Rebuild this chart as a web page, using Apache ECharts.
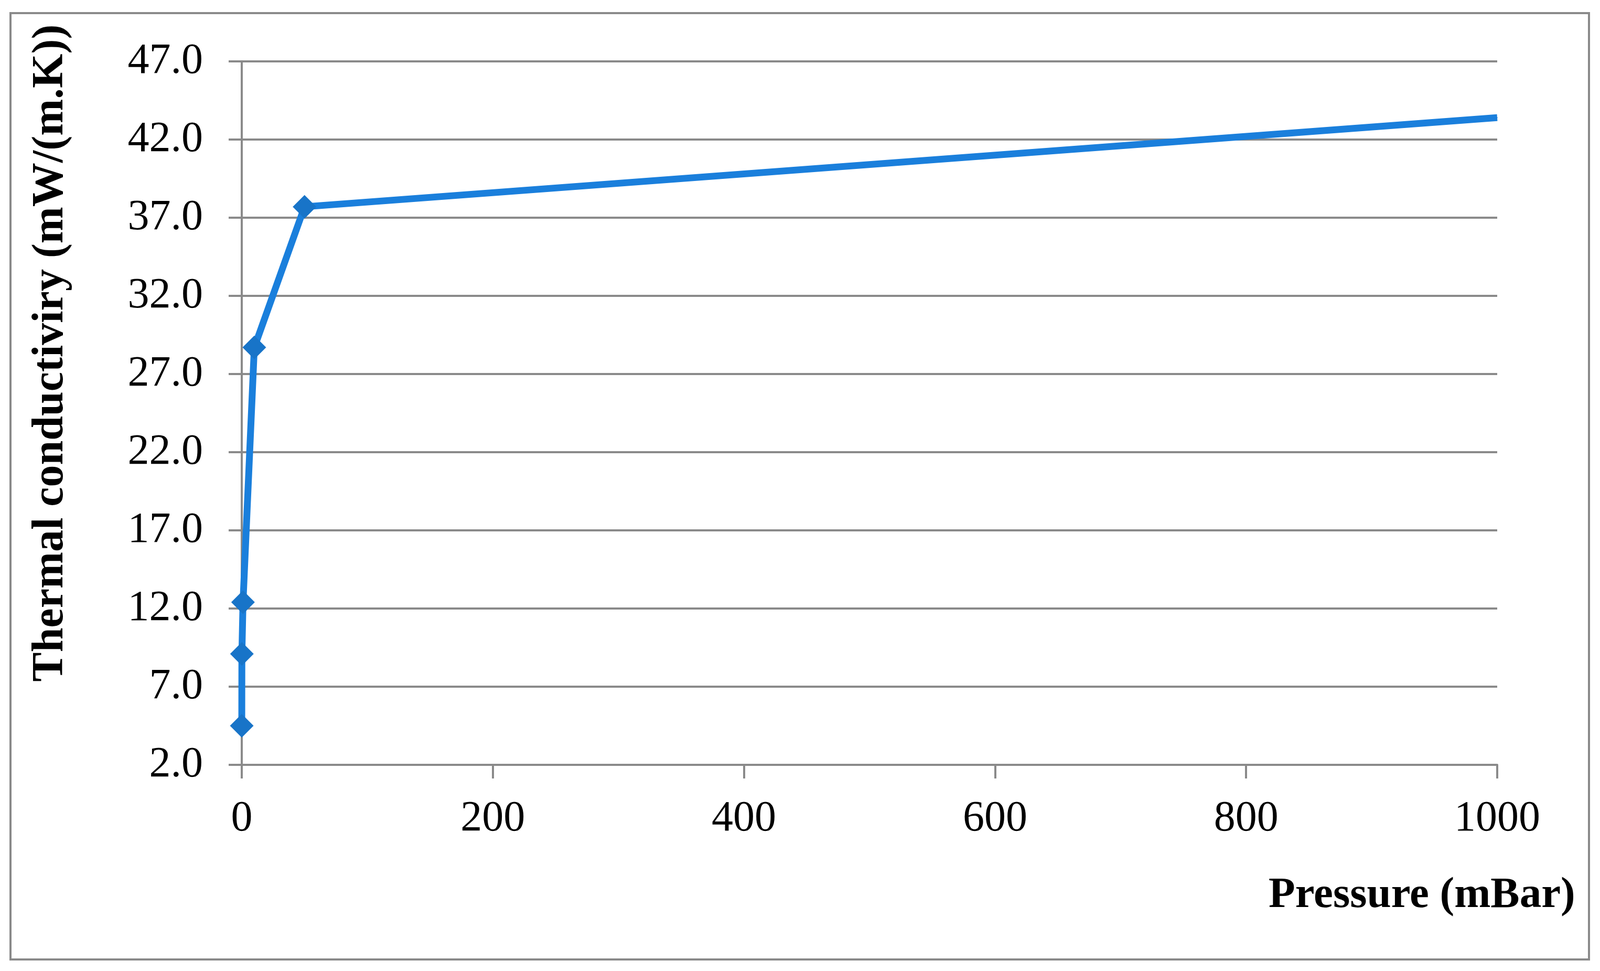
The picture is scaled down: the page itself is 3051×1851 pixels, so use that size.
<!DOCTYPE html>
<html>
<head>
<meta charset="utf-8">
<script src="https://cdn.jsdelivr.net/npm/echarts@6/dist/echarts.min.js"></script>
<style>
html,body{margin:0;padding:0;background:#fff;}
#chart{width:3051px;height:1851px;}
</style>
</head>
<body>
<div id="chart"></div>
<script>
const pressure = [0.01, 0.1, 1, 10, 50, 1000];
const conductivity = [4.5, 9.1, 12.4, 28.7, 37.7, 43.4];
const xAxisName = 'Pressure (mBar)';
const yAxisName = 'Thermal conductiviry (mW/(m.K))';

const chart = echarts.init(document.getElementById('chart'), null, {renderer: 'canvas'});
const gray = '#8a8a8a';
const font = '"Liberation Serif", "Times New Roman", serif';
const lastIdx = pressure.length - 1;

chart.setOption({
  backgroundColor: '#ffffff',
  animation: false,
  grid: {left: 461, right: 196, top: 117, bottom: 393, containLabel: false},
  xAxis: {
    type: 'value', min: 0, max: 1000, interval: 200,
    axisLine: {show: true, onZero: false, lineStyle: {color: gray, width: 4}},
    axisTick: {show: true, inside: false, length: 26, lineStyle: {color: gray, width: 4}},
    splitLine: {show: false},
    axisLabel: {color: '#000', fontFamily: font, fontSize: 82, margin: 62,
      formatter: v => String(v)}
  },
  yAxis: {
    type: 'value', min: 2, max: 47, interval: 5,
    axisLine: {show: true, onZero: false, lineStyle: {color: gray, width: 4}},
    axisTick: {show: true, inside: false, length: 25, lineStyle: {color: gray, width: 4}},
    splitLine: {show: true, lineStyle: {color: gray, width: 4}},
    axisLabel: {color: '#000', fontFamily: font, fontSize: 82, margin: 74,
      formatter: v => v.toFixed(1)}
  },
  graphic: [
    {type: 'rect', shape: {x: 20, y: 25, width: 3010, height: 1804},
     style: {fill: 'none', stroke: gray, lineWidth: 4}, z: 0},
    {type: 'text', left: 2419, top: 1666,
     style: {text: xAxisName, font: 'bold 83px ' + font, fill: '#000'}},
    {type: 'text', x: 97, y: 673, rotation: Math.PI / 2,
     style: {text: yAxisName, font: 'bold 84px ' + font, fill: '#000',
       align: 'center', verticalAlign: 'middle'}}
  ],
  series: [{
    type: 'line',
    data: pressure.map((p, i) => [p, conductivity[i]]),
    symbol: 'diamond',
    symbolSize: (v, p) => p.dataIndex === lastIdx ? 0 : 45,
    showAllSymbol: true,
    lineStyle: {color: '#1874c8', width: 13},
    itemStyle: {color: '#1874c8'},
    clip: false
  }]
});
</script>
</body>
</html>
